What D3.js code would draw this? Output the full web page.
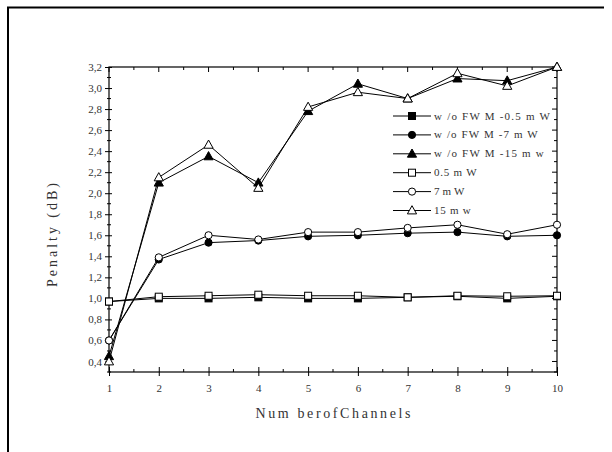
<!DOCTYPE html>
<html>
<head>
<meta charset="utf-8">
<script src="https://cdn.jsdelivr.net/npm/d3@7"></script>
<style>
  html, body { margin: 0; padding: 0; background: #fff; }
  svg { display: block; }
  text { font-family: "Liberation Serif", "DejaVu Serif", serif; fill: #333; }
</style>
</head>
<body>
<svg id="chart" width="612" height="452"></svg>
<script>
// Penalty versus number of channels, with and without four-wave mixing
const channels = [1, 2, 3, 4, 5, 6, 7, 8, 9, 10];

const noFwm05 = [0.97, 1.00, 1.00, 1.01, 1.00, 1.00, 1.01, 1.02, 1.00, 1.02];
const noFwm7  = [0.60, 1.37, 1.53, 1.55, 1.59, 1.60, 1.62, 1.63, 1.59, 1.60];
const noFwm15 = [0.45, 2.10, 2.35, 2.10, 2.78, 3.04, 2.90, 3.09, 3.07, 3.20];
const fwm05   = [0.97, 1.016, 1.025, 1.035, 1.025, 1.025, 1.01, 1.025, 1.02, 1.025];
const fwm7    = [0.60, 1.39, 1.60, 1.56, 1.63, 1.63, 1.67, 1.70, 1.61, 1.70];
const fwm15   = [0.40, 2.15, 2.46, 2.05, 2.82, 2.96, 2.90, 3.14, 3.02, 3.20];

const seriesNames = [
  "w /o FW M  -0.5 m W",
  "w /o FW M  -7 m W",
  "w /o FW M  -15 m w",
  "0.5 m W",
  "7 m W",
  "15 m w"
];
const yTickValues = [0.4, 0.6, 0.8, 1.0, 1.2, 1.4, 1.6, 1.8, 2.0, 2.2, 2.4, 2.6, 2.8, 3.0, 3.2];

const series = [
  { name: seriesNames[0], values: noFwm05, shape: "square",   filled: true  },
  { name: seriesNames[1], values: noFwm7,  shape: "circle",   filled: true  },
  { name: seriesNames[2], values: noFwm15, shape: "triangle", filled: true  },
  { name: seriesNames[3], values: fwm05,   shape: "square",   filled: false },
  { name: seriesNames[4], values: fwm7,    shape: "circle",   filled: false },
  { name: seriesNames[5], values: fwm15,   shape: "triangle", filled: false }
];

const svg = d3.select("#chart");
const L = 109, R = 557, T = 67, B = 372;

const x = d3.scaleLinear().domain([1, 10]).range([L, R]);
const y = d3.scaleLinear().domain([0.3, 3.2]).range([B, T]);

// outer frame (top and left edges)
svg.append("path")
  .attr("d", `M8,452 L8,7.5 L604,7.5`)
  .attr("fill", "none").attr("stroke", "#000").attr("stroke-width", 2);

// plot box
svg.append("rect")
  .attr("x", L).attr("y", T).attr("width", R - L).attr("height", B - T)
  .attr("fill", "none").attr("stroke", "#000").attr("stroke-width", 1.2);

const fmt = d => d3.format(".1f")(d).replace(".", ",");

// left axis
const yAxisL = svg.append("g").attr("transform", `translate(${L},0)`)
  .call(d3.axisLeft(y).tickValues(yTickValues).tickFormat(fmt).tickSize(4).tickPadding(3));
yAxisL.select(".domain").remove();
yAxisL.selectAll("text").style("font-size", "11px").attr("fill", "#333");
yAxisL.selectAll(".tick line").attr("x2", -4).attr("x1", 3);
const yMinor = d3.range(0.3, 3.2001, 0.1).map(v => Math.round(v * 10) / 10)
  .filter(v => !yTickValues.some(t => Math.abs(t - v) < 1e-6));
svg.append("g").selectAll("line").data(yMinor).join("line")
  .attr("x1", L - 2).attr("x2", L + 2)
  .attr("y1", d => y(d)).attr("y2", d => y(d))
  .attr("stroke", "#000");

// right axis (inward ticks)
svg.append("g").selectAll("line").data(d3.range(3, 33).map(v => v / 10)).join("line")
  .attr("x1", R).attr("x2", d => R - (yTickValues.some(t => Math.abs(t - d) < 1e-6) ? 5 : 3))
  .attr("y1", d => y(d)).attr("y2", d => y(d))
  .attr("stroke", "#000");

// bottom axis
const xAxisB = svg.append("g").attr("transform", `translate(0,${B})`)
  .call(d3.axisBottom(x).tickValues(channels).tickFormat(d3.format("d")).tickSize(4).tickPadding(8));
xAxisB.select(".domain").remove();
xAxisB.selectAll("text").style("font-size", "11px").attr("fill", "#333");
xAxisB.selectAll(".tick line").attr("y1", -5).attr("y2", 4);
const xHalf = d3.range(1.5, 10, 1);
svg.append("g").selectAll("line").data(xHalf).join("line")
  .attr("x1", d => x(d)).attr("x2", d => x(d))
  .attr("y1", B).attr("y2", B - 3).attr("stroke", "#000");

// top axis (inward ticks)
svg.append("g").selectAll("line").data(channels.concat(xHalf)).join("line")
  .attr("x1", d => x(d)).attr("x2", d => x(d))
  .attr("y1", T).attr("y2", d => T + (Number.isInteger(d) ? 5 : 3)).attr("stroke", "#000");

// axis titles
svg.append("text")
  .attr("x", 333).attr("y", 418).attr("text-anchor", "middle")
  .attr("textLength", 155).attr("lengthAdjust", "spacing")
  .style("font-size", "14px")
  .text("Num berofChannels");
svg.append("text")
  .attr("transform", "translate(57,235) rotate(-90)")
  .attr("text-anchor", "middle")
  .attr("textLength", 104).attr("lengthAdjust", "spacing")
  .style("font-size", "14px")
  .text("Penalty (dB)");

// markers
function drawMarker(g, shape, filled, cx, cy) {
  const fill = filled ? "#000" : "#fff";
  if (shape === "square") {
    g.append("rect").attr("x", cx - 3.5).attr("y", cy - 3.5).attr("width", 7).attr("height", 7)
      .attr("fill", fill).attr("stroke", "#000").attr("stroke-width", 1);
  } else if (shape === "circle") {
    g.append("circle").attr("cx", cx).attr("cy", cy).attr("r", 3.6)
      .attr("fill", fill).attr("stroke", "#000").attr("stroke-width", 1);
  } else {
    g.append("path")
      .attr("d", `M${cx},${cy - 4.8} L${cx + 4.6},${cy + 3.4} L${cx - 4.6},${cy + 3.4} Z`)
      .attr("fill", fill).attr("stroke", "#000").attr("stroke-width", 1);
  }
}

const line = d3.line().x((d, i) => x(channels[i])).y(d => y(d));
const plot = svg.append("g");
series.forEach(s => {
  plot.append("path").datum(s.values).attr("d", line)
    .attr("fill", "none").attr("stroke", "#000").attr("stroke-width", 1);
});
series.forEach(s => {
  const g = plot.append("g");
  s.values.forEach((v, i) => drawMarker(g, s.shape, s.filled, x(channels[i]), y(v)));
});

// legend
const legend = svg.append("g");
const ly0 = 116, ldy = 18.9;
series.forEach((s, i) => {
  const ly = ly0 + i * ldy;
  legend.append("line").attr("x1", 393).attr("x2", 431).attr("y1", ly).attr("y2", ly)
    .attr("stroke", "#000").attr("stroke-width", 1);
  drawMarker(legend, s.shape, s.filled, 412, ly);
  const t = legend.append("text").attr("x", 434).attr("y", ly + 3.5)
    .style("font-size", "11px").text(s.name);
  // legend labels are set with wide, typewriter-like spacing
  t.attr("textLength", s.name.length * 6.1).attr("lengthAdjust", "spacing");
});
</script>
</body>
</html>
